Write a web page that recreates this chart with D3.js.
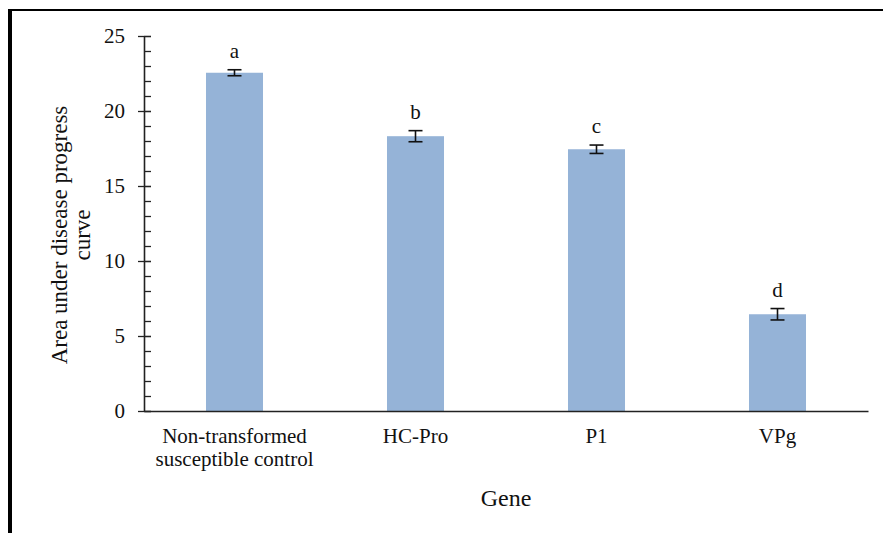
<!DOCTYPE html>
<html>
<head>
<meta charset="utf-8">
<script src="https://cdn.jsdelivr.net/npm/d3@7"></script>
<style>
  body { margin: 0; background: #fff; }
  text { font-family: "Liberation Serif", "Times New Roman", serif; fill: #111; }
</style>
</head>
<body>
<div id="chart"></div>
<script>
// data
const genes = ['Non-transformed|susceptible control', 'HC-Pro', 'P1', 'VPg'];
const audpc = [22.55, 18.32, 17.45, 6.45];
const sem = [0.2, 0.37, 0.28, 0.38];
const groups = ['a', 'b', 'c', 'd'];
const yTicks = [0, 5, 10, 15, 20, 25];

const W = 883, H = 533;
const margin = {top: 36, right: 15, bottom: 122, left: 144};
const width = W - margin.left - margin.right;
const height = H - margin.top - margin.bottom;

const svg = d3.select('#chart')
  .append('svg')
  .attr('width', W)
  .attr('height', H);

// outer frame (cropped on right / bottom)
svg.append('rect')
  .attr('x', 10).attr('y', 10)
  .attr('width', W + 20).attr('height', H + 20)
  .attr('fill', 'none')
  .attr('stroke', '#000')
  .attr('stroke-width', 2);
svg.append('line')
  .attr('x1', 10).attr('x2', 10).attr('y1', 9).attr('y2', H)
  .attr('stroke', '#000').attr('stroke-width', 4);

const g = svg.append('g')
  .attr('transform', 'translate(' + margin.left + ',' + margin.top + ')');

const x = d3.scaleBand()
  .domain(genes)
  .range([0, width])
  .paddingInner(0.685)
  .paddingOuter(0.3425);

const y = d3.scaleLinear()
  .domain([0, 25])
  .range([height, 0]);

// minor ticks (inside)
g.append('g')
  .call(d3.axisRight(y).tickValues(d3.range(0, 26, 1)).tickSize(7).tickFormat(''))
  .call(a => a.select('.domain').remove())
  .selectAll('line').attr('stroke', '#222').attr('stroke-width', 1.3);

// major ticks cross the axis
const yAxis = g.append('g')
  .call(d3.axisLeft(y).tickValues(yTicks).tickSize(6).tickPadding(13).tickSizeOuter(0));
yAxis.select('.domain').attr('stroke', '#222').attr('stroke-width', 1.6);
yAxis.selectAll('.tick line').attr('stroke', '#222').attr('stroke-width', 1.3).attr('x2', 7).attr('x1', -6);
yAxis.selectAll('.tick text')
  .style('font-family', '"Liberation Serif", serif')
  .style('font-size', '21px')
  .attr('fill', '#222');

// bars
g.selectAll('.bar')
  .data(audpc)
  .enter()
  .append('rect')
  .attr('class', 'bar')
  .attr('x', (d, i) => x(genes[i]))
  .attr('y', d => y(d))
  .attr('width', x.bandwidth())
  .attr('height', d => height - y(d))
  .attr('fill', '#95b3d7');

// error bars
const cx = i => x(genes[i]) + x.bandwidth() / 2;
const eb = g.append('g').attr('stroke', '#111').attr('stroke-width', 1.6);
audpc.forEach((v, i) => {
  eb.append('line')
    .attr('x1', cx(i)).attr('x2', cx(i))
    .attr('y1', y(v - sem[i])).attr('y2', y(v + sem[i]));
  [v - sem[i], v + sem[i]].forEach(e => {
    eb.append('line')
      .attr('x1', cx(i) - 7).attr('x2', cx(i) + 7)
      .attr('y1', y(e)).attr('y2', y(e));
  });
});

// significance letters
g.selectAll('.grp')
  .data(groups)
  .enter()
  .append('text')
  .attr('class', 'grp')
  .attr('x', (d, i) => cx(i))
  .attr('y', (d, i) => y(audpc[i] + sem[i]) - 12)
  .attr('text-anchor', 'middle')
  .style('font-size', '21px')
  .text(d => d);

// x axis
const xAxis = g.append('g')
  .attr('transform', 'translate(0,' + height + ')')
  .call(d3.axisBottom(x).tickSize(0).tickFormat(''));
xAxis.select('.domain').attr('stroke', '#222').attr('stroke-width', 1.6);

const xl = g.append('g').attr('transform', 'translate(0,' + height + ')');
genes.forEach((name, i) => {
  const t = xl.append('text')
    .attr('x', cx(i))
    .attr('y', 32)
    .attr('text-anchor', 'middle')
    .style('font-size', '21px');
  name.split('|').forEach((line, j) => {
    t.append('tspan').attr('x', cx(i)).attr('dy', j === 0 ? 0 : 23).text(line);
  });
});

// axis titles
svg.append('text')
  .attr('x', 506)
  .attr('y', 506)
  .attr('text-anchor', 'middle')
  .style('font-size', '24px')
  .text('Gene');

const yt = svg.append('text')
  .attr('transform', 'translate(67,235) rotate(-90)')
  .attr('text-anchor', 'middle')
  .style('font-size', '23px');
yt.append('tspan').attr('x', 0).attr('dy', 0).text('Area under disease progress');
yt.append('tspan').attr('x', 0).attr('dy', 23).text('curve');
</script>
</body>
</html>
